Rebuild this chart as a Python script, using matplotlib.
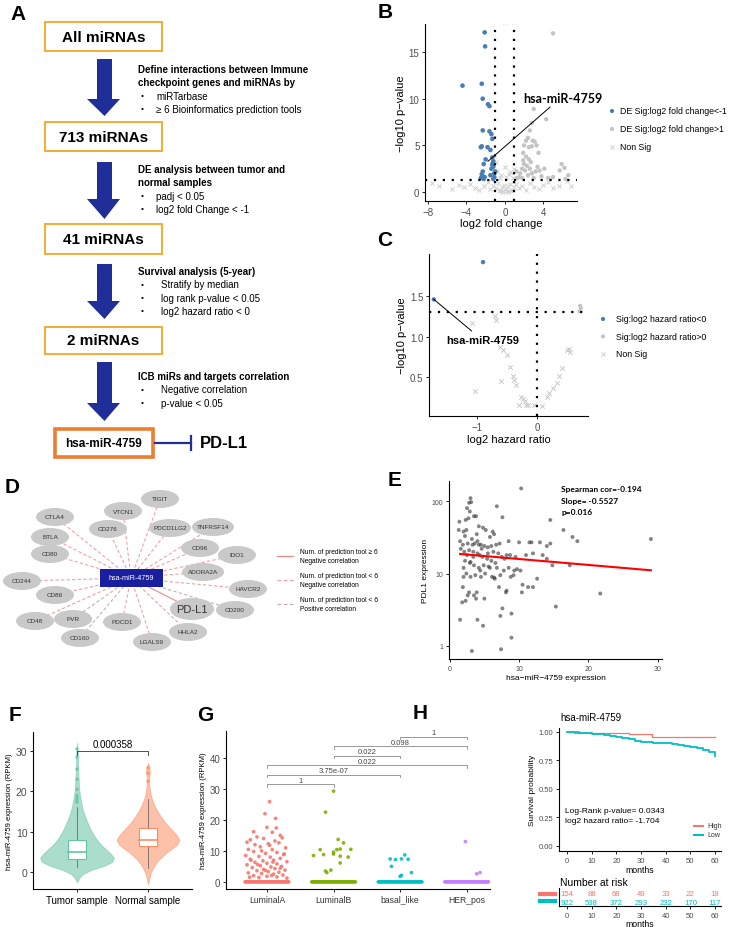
import numpy as np
import matplotlib
matplotlib.use('Agg')
import matplotlib.pyplot as plt
from matplotlib.patches import Rectangle, Ellipse, Polygon

W, H = 738, 928
plt.rcParams['font.family'] = ['Liberation Sans', 'DejaVu Sans']
fig = plt.figure(figsize=(W / 100, H / 100), dpi=100)

# ---------------- DATA ----------------
# Panel A flow
A_boxes = ['All miRNAs', '713 miRNAs', '41 miRNAs', '2 miRNAs']
A_steps = [
    (['Define interactions between Immune', 'checkpoint genes and miRNAs by'],
     ['miRTarbase', '\u2265 6 Bioinformatics prediction tools']),
    (['DE analysis between tumor and', 'normal samples'],
     ['padj < 0.05', 'log2 fold Change < -1']),
    (['Survival analysis (5-year)'],
     ['Stratify by median', 'log rank p-value < 0.05', 'log2 hazard ratio < 0']),
    (['ICB miRs and targets correlation'],
     ['Negative correlation', 'p-value < 0.05']),
]
A_final = 'hsa-miR-4759'
A_target = 'PD-L1'

# Panel B volcano (log2FC, -log10 p)
B_down = [(-2.1, 17.1), (-2.05, 15.6), (-4.4, 11.4), (-2.4, 11.6), (-2.3, 10.0), (-1.75, 9.4),
          (-1.6, 9.2), (-2.3, 6.6), (-1.6, 6.5), (-1.4, 6.2), (-1.3, 5.7), (-2.5, 4.8), (-2.4, 4.9),
          (-1.8, 4.8), (-1.5, 4.5), (-2.0, 3.5), (-1.3, 3.7), (-1.2, 3.3), (-1.3, 3.0), (-2.2, 3.0),
          (-1.2, 2.7), (-1.4, 2.5), (-2.3, 2.2), (-2.4, 1.9), (-2.3, 1.7), (-2.1, 1.6), (-1.1, 2.0),
          (-1.1, 1.6), (-1.2, 1.4), (-2.5, 1.5), (-1.0, 2.2), (-1.3, 2.9), (-1.5, 1.8), (-2.2, 1.4)]
B_up = [(5.0, 17.0), (3.0, 8.9), (4.3, 7.8), (2.8, 7.4), (2.6, 6.6), (2.4, 5.8), (2.2, 5.5), (2.9, 5.5),
        (3.1, 5.4), (2.0, 5.0), (2.5, 4.8), (2.8, 4.9), (3.3, 5.0), (1.9, 4.2), (2.2, 3.8), (2.5, 3.5),
        (3.5, 4.2), (2.0, 3.0), (2.3, 2.8), (2.7, 3.2), (1.8, 2.5), (2.1, 2.3), (1.6, 2.0), (2.4, 1.8),
        (1.5, 1.6), (1.8, 1.5), (3.4, 2.7), (3.6, 2.3), (4.1, 2.5), (5.9, 3.0), (6.2, 2.6), (6.6, 1.8),
        (5.7, 2.3), (5.0, 1.6), (6.3, 1.4), (4.5, 1.5), (3.8, 1.7), (1.3, 1.5), (1.2, 2.2), (2.8, 2.0),
        (3.0, 1.5), (1.9, 3.4), (2.6, 2.5), (3.2, 2.2)]
B_nonsig = [(-7.6, 1.0), (-6.8, 0.6), (-5.5, 0.3), (-4.8, 0.8), (-4.2, 0.5), (-3.6, 0.9), (-3.1, 0.4),
            (-2.7, 0.2), (-2.2, 0.7), (-1.8, 1.1), (-1.5, 0.3), (-1.2, 0.6), (-0.9, 0.4), (-0.7, 1.0),
            (-0.5, 0.2), (-0.3, 0.5), (-0.1, 0.8), (0.1, 0.3), (0.3, 0.6), (0.5, 0.9), (0.7, 0.2),
            (0.9, 0.5), (-0.8, 2.3), (-0.4, 1.8), (0.0, 2.7), (0.4, 1.9), (0.8, 1.5), (-0.6, 0.1),
            (-0.2, 0.1), (0.2, 0.1), (0.6, 0.15), (1.2, 0.9), (1.5, 0.4), (1.8, 0.7), (2.2, 0.2),
            (2.6, 1.0), (3.0, 0.5), (3.5, 0.3), (4.0, 0.8), (4.5, 1.1), (5.0, 0.4), (5.6, 0.6),
            (6.5, 1.2), (6.9, 0.7), (-0.9, 3.2), (-0.5, 1.5), (0.1, 1.6), (0.5, 2.2), (0.9, 2.5),
            (-0.3, 0.05), (0.3, 0.05), (0.0, 18.2), (0.9, 18.2)]
B_label_point = (-1.75, 3.3)
B_label_anchor = (4.7, 9.1)
B_legend = ['DE Sig:log2 fold change<-1', 'DE Sig:log2 fold change>1', 'Non Sig']

# Panel C (log2 HR, -log10 p)
C_neg = [(-1.72, 1.46), (-0.9, 1.92)]
C_pos = [(0.72, 1.38), (0.73, 1.35), (0.71, 1.31)]
C_nonsig = [(-1.09, 1.17), (-0.7, 1.25), (-0.68, 1.2), (-0.62, 0.87), (-0.56, 0.83), (-0.5, 0.77),
            (-0.45, 0.63), (-0.4, 0.52), (-0.38, 0.46), (-0.35, 0.4), (-0.6, 0.45), (-1.03, 0.33),
            (-0.26, 0.26), (-0.23, 0.23), (-0.2, 0.2), (-0.18, 0.16), (-0.15, 0.16), (-0.3, 0.16),
            (-0.05, 0.16), (0.08, 0.14), (0.17, 0.26), (0.2, 0.3), (0.26, 0.36), (0.34, 0.43),
            (0.37, 0.51), (0.42, 0.61), (0.5, 0.83), (0.53, 0.85), (0.55, 0.81)]
C_legend = ['Sig:log2 hazard ratio<0', 'Sig:log2 hazard ratio>0', 'Non Sig']

# Panel D network: name, center(px), edge type (0 solid neg>=6, 1 dashed neg<6, 2 dashed pos<6)
D_center = 'hsa-miR-4759'
D_nodes = [('TIGIT', 160, 500, 1), ('VTCN1', 123, 512, 1), ('CTLA4', 55, 518, 1),
           ('CD276', 108, 530, 1), ('PDCD1LG2', 170, 529, 1), ('TNFRSF14', 213, 528, 1),
           ('BTLA', 50, 538, 1), ('CD96', 200, 549, 1), ('IDO1', 237, 556, 1),
           ('CD80', 50, 555, 1), ('ADORA2A', 203, 573, 1), ('CD244', 22, 582, 1),
           ('CD86', 55, 596, 1), ('HAVCR2', 248, 590, 1), ('PD-L1', 192, 610, 0),
           ('CD200', 235, 611, 2), ('CD48', 35, 622, 1), ('PVR', 73, 620, 2),
           ('PDCD1', 122, 623, 1), ('HHLA2', 188, 633, 1), ('CD160', 80, 639, 2),
           ('LGALS9', 152, 643, 1)]
D_legend = [('Num. of prediction tool \u2265 6', 'Negative correlation'),
            ('Num. of prediction tool < 6', 'Negative correlation'),
            ('Num. of prediction tool < 6', 'Positive correlation')]

# Panel E scatter (miR expression, PDL1 expression)
E_points = [(10.3, 150), (3.0, 110), (2.8, 95), (3.1, 97), (2.5, 80), (2.9, 72), (6.8, 85), (7.6, 60),
            (2.3, 55), (2.7, 58), (1.4, 52), (3.5, 62), (3.8, 62), (14.5, 55), (1.3, 40), (2.0, 38),
            (2.4, 40), (4.8, 43), (5.2, 40), (6.2, 38), (6.4, 35), (16.4, 40), (17.7, 32), (18.4, 28),
            (29.0, 30), (1.5, 28), (2.6, 26), (3.3, 25), (3.6, 26), (4.2, 25), (4.5, 25), (5.0, 24),
            (5.5, 23), (6.0, 24), (6.7, 25), (7.2, 26), (8.5, 28), (10.0, 27), (11.5, 27), (11.8, 27),
            (13.0, 27), (14.0, 24), (14.5, 26), (1.6, 22), (2.1, 20), (2.8, 21), (3.4, 20), (4.0, 19),
            (4.3, 18), (5.5, 19), (6.3, 20), (7.0, 19), (7.5, 17), (8.2, 18), (8.7, 18), (9.5, 17),
            (11.0, 18), (12.0, 19), (13.4, 18), (14.0, 16), (14.8, 13), (17.3, 13), (2.2, 15),
            (2.9, 14), (3.0, 14.5), (3.5, 13), (4.2, 12), (4.9, 13), (5.8, 12), (6.6, 14), (7.8, 11),
            (8.5, 12), (9.3, 11), (9.7, 11.5), (10.2, 11), (2.4, 10), (3.0, 9), (3.7, 9.5), (4.5, 9),
            (5.1, 10), (6.1, 9), (6.5, 8.5), (6.4, 8.8), (7.3, 9.5), (8.8, 9), (11.3, 6.5), (12.0, 6.5),
            (12.6, 8.5), (10.4, 5.5), (10.5, 7), (1.9, 6.5), (2.0, 9), (2.6, 5), (2.8, 5.5), (3.5, 5),
            (3.9, 5.5), (3.8, 4.5), (5.0, 4.5), (7.1, 6.5), (8.1, 5.5), (8.2, 5.8), (21.7, 5.3),
            (1.8, 4), (2.3, 4.2), (7.6, 3.3), (15.3, 3.5), (8.9, 2.8), (7.3, 2.6), (1.5, 2.3),
            (4.0, 2.3), (4.8, 1.9), (8.9, 1.3), (3.2, 0.85), (7.4, 0.9), (9.2, 9.5), (6.8, 12),
            (5.4, 16), (4.6, 22), (3.2, 30), (5.8, 32), (4.0, 28), (2.2, 33), (1.9, 25), (7.9, 16),
            (3.4, 17), (4.7, 17), (6.0, 15), (2.5, 18), (2.0, 12), (4.4, 11), (5.6, 12.5), (3.9, 35),
            (4.2, 45)]
E_fit_x = [1.5, 29.0]
E_fit_log10_intercept = 1.283
E_fit_log10_slope = -0.0082
E_stats = ['Spearman cor=-0.194', 'Slope= -0.5527', 'p=0.016']

# Panel F violins: profile levels and relative half-widths
F_groups = ['Tumor sample', 'Normal sample']
F_levels_t = [-2.5, -1.5, -0.5, 0.5, 1.5, 2.5, 3.5, 4.5, 5.5, 6.5, 7.5, 8.5, 10, 11.5, 13, 14.5, 16,
              17.5, 19, 20.5, 22, 24, 26, 28, 30, 32]
F_width_t = [0.0, 0.06, 0.16, 0.38, 0.72, 0.95, 1.0, 0.92, 0.8, 0.68, 0.58, 0.5, 0.4, 0.32, 0.25, 0.19,
             0.14, 0.11, 0.08, 0.06, 0.05, 0.04, 0.03, 0.025, 0.02, 0.0]
F_levels_n = [-3, -2, -1, 0, 1, 2, 3, 4, 5, 6, 7, 8, 9, 10, 11, 12, 13, 14, 15, 16, 17, 18, 19, 20,
              21, 22, 23, 24, 25, 26, 27]
F_width_n = [0.0, 0.03, 0.06, 0.1, 0.16, 0.24, 0.34, 0.47, 0.62, 0.8, 0.95, 1.0, 0.93, 0.82, 0.7,
             0.58, 0.48, 0.39, 0.31, 0.24, 0.18, 0.13, 0.09, 0.07, 0.05, 0.04, 0.04, 0.05, 0.06, 0.04, 0.0]
F_max_half = [0.52, 0.44]
F_box = [(1.2, 3.2, 5.0, 8.0, 16.0), (1.0, 6.5, 8.0, 11.0, 18.0)]  # lo whisker, q1, med, q3, hi whisker
F_outliers = [[17.3, 17.8, 18.4, 19.0, 20.5, 23.0, 25.5, 28.5, 30.5], [22.5, 24.5, 25.8]]
F_pval = '0.000358'
F_colors = ['#66C2A5', '#FC8D62']

# Panel G strip
G_groups = ['LuminalA', 'LuminalB', 'basal_like', 'HER_pos']
G_colors = ['#F8766D', '#7CAE00', '#00BFC4', '#C77CFF']
G_nonzero = [
    [(0.04, 25.9), (-0.03, 22.0), (0.13, 20.5), (0.0, 17.6), (0.14, 17.4), (-0.2, 16.2), (0.08, 16.0),
     (-0.15, 14.5), (0.2, 15.0), (0.23, 14.2), (-0.25, 13.6), (-0.05, 14.0), (0.12, 13.2), (-0.3, 12.8),
     (-0.18, 12.0), (0.02, 12.3), (0.18, 12.6), (-0.1, 11.3), (0.28, 11.0), (-0.28, 10.5), (0.08, 10.4),
     (-0.2, 9.8), (0.15, 9.5), (-0.02, 9.2), (0.25, 8.8), (-0.32, 8.5), (-0.12, 8.2), (0.05, 8.0),
     (0.2, 7.6), (-0.25, 7.3), (0.1, 7.0), (-0.06, 6.8), (0.3, 6.5), (-0.18, 6.3), (0.0, 6.0),
     (0.15, 5.8), (-0.3, 5.5), (-0.1, 5.2), (0.22, 5.0), (0.06, 4.8), (-0.22, 4.6), (0.12, 4.3),
     (-0.05, 4.0), (0.27, 3.8), (-0.15, 3.6), (0.02, 3.3), (0.18, 3.1), (-0.28, 2.9), (-0.08, 2.7),
     (0.1, 2.5), (0.24, 2.2), (-0.2, 2.0), (0.0, 1.8), (0.15, 1.6), (-0.12, 1.4), (0.3, 1.2),
     (-0.26, 1.5), (0.07, 2.1), (-0.02, 3.7), (0.2, 4.4), (-0.14, 5.6), (0.09, 6.4), (-0.24, 7.0),
     (0.26, 9.0), (-0.08, 10.0), (0.04, 11.8)],
    [(0.0, 29.3), (-0.12, 22.5), (0.07, 13.7), (0.15, 12.6), (-0.2, 10.4), (0.05, 10.4), (0.1, 10.6),
     (0.26, 10.5), (0.0, 9.6), (-0.3, 8.5), (-0.15, 8.8), (0.0, 9.0), (0.1, 8.3), (0.22, 8.0),
     (0.1, 6.1), (-0.12, 3.5), (-0.1, 3.0), (-0.04, 3.8)],
    [(0.07, 8.7), (0.02, 7.4), (0.12, 7.3), (-0.07, 7.2), (-0.15, 7.4), (-0.13, 5.0), (0.17, 3.0),
     (0.02, 2.1), (0.0, 1.8)],
    [(-0.02, 13.0), (0.2, 3.0), (0.15, 2.6)],
]
G_comparisons = [(3, 4, '1'), (2, 4, '0.098'), (2, 3, '0.022'), (1, 4, '0.022'), (1, 3, '3.75e-07'),
                 (1, 2, '1')]

# Panel H KM
H_title = 'hsa-miR-4759'
H_high_t = [0, 3, 25, 34.5, 60]
H_high_s = [1.0, 0.993, 0.985, 0.955, 0.955]
H_low_t = [0, 2.5, 5, 7.5, 10, 12.5, 15, 17.5, 20, 22.5, 25, 27.5, 30, 32.5, 35, 37.5, 40, 42.5, 45,
           47.5, 50, 52.5, 55, 57.5, 60]
H_low_s = [1.0, 0.997, 0.993, 0.99, 0.985, 0.98, 0.973, 0.965, 0.955, 0.945, 0.935, 0.925, 0.915,
           0.91, 0.907, 0.904, 0.9, 0.895, 0.888, 0.88, 0.87, 0.86, 0.845, 0.82, 0.79]
H_risk_t = [0, 10, 20, 30, 40, 50, 60]
H_risk_high = [154, 88, 68, 49, 33, 22, 18]
H_risk_low = [922, 538, 372, 293, 232, 170, 117]
H_text = ['Log-Rank p-value= 0.0343', 'log2 hazard ratio= -1.704']
H_colors = ['#F8766D', '#00BFC4']

# ---------------- HELPERS ----------------
def px_axes(x0, y0, x1, y1):
    return fig.add_axes([x0 / W, 1 - y1 / H, (x1 - x0) / W, (y1 - y0) / H])


def classic(ax, fs=6.5):
    for s in ['top', 'right']:
        ax.spines[s].set_visible(False)
    for s in ['left', 'bottom']:
        ax.spines[s].set_linewidth(0.8)
        ax.spines[s].set_color('black')
    ax.tick_params(direction='out', length=2.5, width=0.6, labelsize=fs, labelcolor='#4D4D4D', pad=1.5)
    ax.patch.set_alpha(0)


DOT = (0, (1, 3))

ov = fig.add_axes([0, 0, 1, 1])
ov.set_xlim(0, W)
ov.set_ylim(H, 0)
ov.axis('off')

# panel letters
for lab, x, y in [('A', 18, 14), ('B', 385, 13), ('C', 385, 241), ('D', 12, 488), ('E', 395, 481),
                  ('F', 15, 716), ('G', 205, 716), ('H', 420, 714)]:
    ov.text(x, y, lab, fontsize=15, fontweight='bold', va='center', ha='center')

# ---------------- PANEL A ----------------
box_y = [(23, 52), (123, 152), (225, 255), (328, 355)]
for name, (y0, y1) in zip(A_boxes, box_y):
    ov.add_patch(Rectangle((45, y0), 117, y1 - y0, fill=False, ec='#F5A623', lw=1.3))
    ov.text(103.5, (y0 + y1) / 2, name, fontsize=11, fontweight='bold', ha='center', va='center')
arrows = [(60, 100, 117), (163, 200, 220), (265, 302, 320), (363, 404, 422)]
for ys, yh, ye in arrows:
    ov.add_patch(Polygon([(97, ys), (112, ys), (112, yh), (120, yh), (104.5, ye), (87, yh), (97, yh)],
                         closed=True, fc='#1F2E98', ec='none'))
text_y0 = [70, 170, 272, 377]
for (heads, items), y0 in zip(A_steps, text_y0):
    y = y0
    for h in heads:
        ov.text(138, y, h, fontsize=7, fontweight='bold', va='center')
        y += 13.3
    for it in items:
        ov.text(141, y, '\u2022', fontsize=6, va='center')
        ov.text(156 if len(items) == 2 and y0 < 300 else 161, y, it, fontsize=7, va='center')
        y += 13.3
ov.add_patch(Rectangle((55, 430), 98, 28, fill=False, ec='#ED7D31', lw=2.6))
ov.text(104, 444, A_final, fontsize=8.5, fontweight='bold', ha='center', va='center')
ov.plot([155, 191], [444, 444], color='#1F2E98', lw=1.6)
ov.plot([191, 191], [437, 451], color='#1F2E98', lw=1.6)
ov.text(200, 444, A_target, fontsize=12, fontweight='bold', va='center')

# ---------------- PANEL B ----------------
axB = px_axes(425, 25, 577, 202)
classic(axB, 7)
nx, ny = zip(*B_nonsig)
axB.scatter(nx, ny, marker='x', s=9, c='#CFCFCF', linewidths=0.7, clip_on=True)
ux, uy = zip(*B_up)
axB.scatter(ux, uy, s=10, c='#C4C4C4', edgecolors='none')
dx, dy = zip(*B_down)
axB.scatter(dx, dy, s=11, c='#4A7DB3', edgecolors='none')
for xv in (-1, 1):
    axB.axvline(xv, ls=DOT, lw=1.6, c='black', dash_capstyle='butt')
axB.axhline(1.3, ls=DOT, lw=1.6, c='black', dash_capstyle='butt')
axB.plot([B_label_point[0], B_label_anchor[0]], [B_label_point[1], B_label_anchor[1]], c='black', lw=0.7)
axB.text(1.9, 10.1, 'hsa-miR-4759', fontsize=9, fontweight='bold', family=['Lato', 'DejaVu Sans'],
         va='center')
axB.set_xlim(-8.3, 7.5)
axB.set_ylim(-0.96, 18)
axB.set_xticks([-8, -4, 0, 4])
axB.set_yticks([0, 5, 10, 15])
axB.set_xlabel('log2 fold change', fontsize=8, labelpad=1)
axB.set_ylabel('\u2212log10 p\u2212value', fontsize=8, labelpad=2)
leg_cols = [('#4A7DB3', 'o'), ('#C4C4C4', 'o'), ('#CFCFCF', 'x')]
for i, (lab, (c, m)) in enumerate(zip(B_legend, leg_cols)):
    yy = 112 + i * 18
    if m == 'o':
        ov.scatter([612], [yy], s=9, c=c, edgecolors='none')
    else:
        ov.scatter([612], [yy], s=9, c=c, marker='x', linewidths=0.7)
    ov.text(620, yy, lab, fontsize=6.3, va='center')

# ---------------- PANEL C ----------------
axC = px_axes(429, 255, 588, 417)
classic(axC, 7)
cx, cy = zip(*C_nonsig)
axC.scatter(cx, cy, marker='x', s=10, c='#C8C8C8', linewidths=0.7)
px_, py_ = zip(*C_pos)
axC.scatter(px_, py_, s=9, c='#C4C4C4', edgecolors='none')
gx, gy = zip(*C_neg)
axC.scatter(gx, gy, s=10, c='#4A7DB3', edgecolors='none')
axC.axvline(0, ls=DOT, lw=1.6, c='black', dash_capstyle='butt')
axC.axhline(1.3, ls=DOT, lw=1.6, c='black', dash_capstyle='butt')
axC.plot([-1.72, -1.09], [1.46, 1.07], c='black', lw=0.7)
axC.text(-0.9, 0.96, 'hsa-miR-4759', fontsize=8, fontweight='bold', ha='center', va='center')
axC.set_xlim(-1.8, 0.85)
axC.set_ylim(0.02, 2.02)
axC.set_xticks([-1, 0])
axC.set_yticks([0.5, 1.0, 1.5])
axC.set_yticklabels(['0.5', '1.0', '1.5'])
axC.set_xlabel('log2 hazard ratio', fontsize=8, labelpad=2)
axC.set_ylabel('\u2212log10 p\u2212value', fontsize=8, labelpad=2)
for i, (lab, (c, m)) in enumerate(zip(C_legend, leg_cols)):
    yy = 320 + i * 17.5
    if m == 'o':
        ov.scatter([603], [yy], s=9, c=c, edgecolors='none')
    else:
        ov.scatter([603], [yy], s=9, c=c, marker='x', linewidths=0.7)
    ov.text(616, yy, lab, fontsize=6.3, va='center')

# ---------------- PANEL D ----------------
cxD, cyD = 131, 579
edge_style = {0: ('#E98A8A', '-'), 1: ('#EFA3A3', (0, (3, 2))), 2: ('#C9B0B0', (0, (3, 2)))}
for name, x, y, t in D_nodes:
    col, ls = edge_style[t]
    ov.plot([cxD, x], [cyD, y], color=col, ls=ls, lw=0.8, zorder=1)
for name, x, y, t in D_nodes:
    big = name == 'PD-L1'
    w = 44 if big else (42 if len(name) > 6 else 38)
    h = 22 if big else 18
    ov.add_patch(Ellipse((x, y), w, h, fc='#C9C9C9', ec='none', zorder=2))
    ov.text(x, y, name, fontsize=8 if big else 4.6, color='#333333', ha='center', va='center', zorder=3)
ov.add_patch(Rectangle((100, 570), 63, 18, fc='#1A1FA0', ec='none', zorder=4))
ov.text(131.5, 579, D_center, fontsize=5.2, color='white', ha='center', va='center', zorder=5)
for i, (l1, l2) in enumerate(D_legend):
    yy = 557 + i * 24
    col, ls = edge_style[i]
    ov.plot([277, 293], [yy, yy], color=col, ls=ls, lw=0.9)
    ov.text(300, yy - 4.5, l1, fontsize=4.8, va='center')
    ov.text(300, yy + 4.5, l2, fontsize=4.8, va='center')

# ---------------- PANEL E ----------------
axE = px_axes(449, 482, 662, 660)
classic(axE, 5)
ex, ey = zip(*E_points)
axE.scatter(ex, ey, s=8, c='#333333', alpha=0.6, edgecolors='none')
fx = np.array(E_fit_x)
axE.plot(fx, 10 ** (E_fit_log10_intercept + E_fit_log10_slope * fx), c='red', lw=1.5)
axE.set_yscale('log')
axE.set_ylim(0.66, 190)
axE.set_xlim(-0.1, 30.6)
axE.set_yticks([1, 10, 100])
axE.set_yticklabels(['1', '10', '100'])
axE.yaxis.set_minor_locator(matplotlib.ticker.NullLocator())
axE.set_xticks([0, 10, 20, 30])
axE.set_xlabel('hsa\u2212miR\u22124759 expression', fontsize=6, labelpad=2)
axE.set_ylabel('PDL1 expression', fontsize=6, labelpad=2)
for i, s in enumerate(E_stats):
    ov.text(561, 490 + i * 11.5, s, fontsize=6, fontweight='bold', family=['Lato', 'DejaVu Sans'],
            va='center')

# ---------------- PANEL F ----------------
axF = px_axes(33, 733, 192, 890)
classic(axF, 7.5)
for i in range(2):
    lv = np.array([F_levels_t, F_levels_n][i])
    wd = np.array([F_width_t, F_width_n][i]) * F_max_half[i]
    xc = i + 1
    axF.fill_betweenx(lv, xc - wd, xc + wd, fc=F_colors[i], alpha=0.55, ec=F_colors[i], lw=0.6)
    lo, q1, med, q3, hi = F_box[i]
    axF.plot([xc, xc], [lo, q1], c='#555555', lw=0.5)
    axF.plot([xc, xc], [q3, hi], c='#555555', lw=0.5)
    axF.add_patch(Rectangle((xc - 0.125, q1), 0.25, q3 - q1, fc='white', ec=F_colors[i], lw=0.8, zorder=3))
    axF.plot([xc - 0.125, xc + 0.125], [med, med], c=F_colors[i], lw=1.2, zorder=4)
    axF.scatter([xc] * len(F_outliers[i]), F_outliers[i], s=6, c=F_colors[i], alpha=0.8, zorder=4,
                edgecolors='none')
axF.plot([1, 1, 2, 2], [29.0, 30.0, 30.0, 29.0], c='#333333', lw=0.6)
axF.text(1.5, 30.6, F_pval, fontsize=7, ha='center', va='bottom')
axF.set_xlim(0.38, 2.62)
axF.set_ylim(-4.2, 34.7)
axF.set_yticks([0, 10, 20, 30])
axF.set_xticks([1, 2])
axF.set_xticklabels(F_groups, fontsize=7, color='black')
axF.set_ylabel('hsa-miR-4759 expression (RPKM)', fontsize=5.5, labelpad=2)

# ---------------- PANEL G ----------------
axG = px_axes(226, 732, 490, 890)
classic(axG, 7)
for i in range(4):
    xc = i + 1
    zo = np.linspace(-0.33, 0.33, 60)
    axG.scatter(xc + zo, np.zeros_like(zo), s=6, c=G_colors[i], edgecolors='none', alpha=0.9)
    ox, oy = zip(*G_nonzero[i])
    axG.scatter(xc + np.array(ox), oy, s=7, c=G_colors[i], edgecolors='none', alpha=0.9)
for k, (a, b, lab) in enumerate(G_comparisons):
    yb = 46.8 - k * 3.05
    axG.plot([a, a, b, b], [yb - 0.8, yb, yb, yb - 0.8], c='#888888', lw=0.6, clip_on=False)
    axG.text((a + b) / 2, yb + 0.2, lab, fontsize=5.5, ha='center', va='bottom', color='#444444',
             clip_on=False)
axG.set_xlim(0.385, 4.35)
axG.set_ylim(-2.3, 48.7)
axG.set_yticks([0, 10, 20, 30, 40])
axG.set_xticks([1, 2, 3, 4])
axG.set_xticklabels(G_groups, fontsize=6.2, color='#333333')
axG.set_ylabel('hsa-miR-4759 expression (RPKM)', fontsize=5.5, labelpad=2)

# ---------------- PANEL H ----------------
axH = px_axes(559, 729, 721, 852)
classic(axH, 5.5)
axH.step(H_high_t, H_high_s, where='post', c=H_colors[0], lw=0.9)
axH.step(H_low_t, H_low_s, where='post', c=H_colors[1], lw=1.3)
axH.set_xlim(-3.2, 62.4)
axH.set_ylim(-0.045, 1.035)
axH.set_xticks([0, 10, 20, 30, 40, 50, 60])
axH.set_yticks([0, 0.25, 0.5, 0.75, 1.0])
axH.set_yticklabels(['0.00', '0.25', '0.50', '0.75', '1.00'])
axH.set_xlabel('months', fontsize=6.3, labelpad=1)
axH.set_ylabel('Survival probability', fontsize=6, labelpad=2)
ov.text(560, 718, H_title, fontsize=7, va='center')
ov.text(565, 812, H_text[0], fontsize=6, va='center')
ov.text(565, 822, H_text[1], fontsize=6, va='center')
for i, lab in enumerate(['High', 'Low']):
    yy = 827 + i * 9
    ov.plot([694, 703], [yy, yy], c=H_colors[i], lw=1.5)
    ov.text(707, yy, lab, fontsize=5, va='center', color='#333333')

axT = px_axes(559, 889, 721, 907)
classic(axT, 5.5)
axT.set_xlim(-3.2, 62.4)
axT.set_ylim(0, 1)
axT.set_yticks([])
for t, a, b in zip(H_risk_t, H_risk_high, H_risk_low):
    axT.text(t, 0.72, str(a), fontsize=5.6, color=H_colors[0], ha='center', va='center')
    axT.text(t, 0.22, str(b), fontsize=5.6, color=H_colors[1], ha='center', va='center')
axT.set_xticks(H_risk_t)
axT.set_xlabel('months', fontsize=6.3, labelpad=0.5)
ov.text(560, 883, 'Number at risk', fontsize=7.5, va='center')
ov.plot([540, 555], [895, 895], c=H_colors[0], lw=3)
ov.plot([540, 555], [902, 902], c=H_colors[1], lw=3)

fig.savefig('out.png', dpi=100)
